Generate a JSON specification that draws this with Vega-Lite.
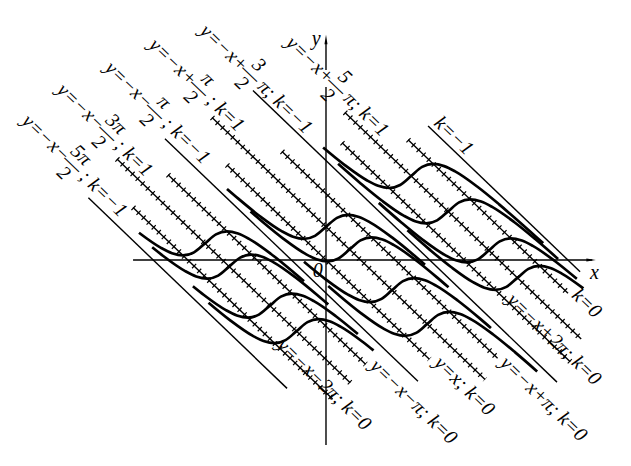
{
"$schema": "https://vega.github.io/schema/vega-lite/v6.json",
"width": 631, "height": 466, "autosize": {"type": "none"}, "padding": 0,
"background": "white",
"config": {"view": {"stroke": null}},
"datasets": {
"axes": [
{"x1": -8.77, "y1": 0, "x2": 12.1, "y2": 0},
{"x1": 0, "y1": -8.77, "x2": 0, "y2": 8.2},
{"x1": 0, "y1": 9.0, "x2": 0, "y2": 10.3}
],
"arrows": [
{"x": 12.05, "y": 0, "s": "M -1 -0.32 L 1 0 L -1 0.32 Z"},
{"x": 0, "y": 10.45, "s": "M -0.32 1 L 0 -1 L 0.32 1 Z"}
],
"lines": [
{"kind": "sol", "x1": -10.8, "y1": 2.946, "x2": -1.77, "y2": -6.084},
{"kind": "sol", "x1": -7.32, "y1": 5.749, "x2": 4.18, "y2": -5.751},
{"kind": "sol", "x1": -3.32, "y1": 8.032, "x2": 10.5, "y2": -5.788},
{"kind": "sol", "x1": 4.64, "y1": 6.356, "x2": 11.55, "y2": -0.554},
{"kind": "iso1", "x1": -9.5, "y1": 4.788, "x2": 1.1, "y2": -5.812},
{"kind": "iso1", "x1": -5.18, "y1": 6.751, "x2": 7.23, "y2": -5.659},
{"kind": "iso1", "x1": 0.86, "y1": 6.994, "x2": 11.6, "y2": -3.746},
{"kind": "iso0", "x1": -8.77, "y1": 2.487, "x2": 0.3, "y2": -6.583},
{"kind": "iso0", "x1": -7.18, "y1": 4.038, "x2": 1.8, "y2": -4.942},
{"kind": "iso0", "x1": -4.5, "y1": 4.5, "x2": 4.7, "y2": -4.7},
{"kind": "iso0", "x1": -2.0, "y1": 5.142, "x2": 7.8, "y2": -4.658},
{"kind": "iso0", "x1": 0.73, "y1": 5.553, "x2": 11.1, "y2": -4.817},
{"kind": "iso0", "x1": 3.73, "y1": 5.695, "x2": 11.0, "y2": -1.575}
],
"curves": [
{"id": "A", "x": -0.13, "y": 5.332}, {"id": "A", "x": 0.87, "y": 4.486}, {"id": "A", "x": 1.87, "y": 3.770}, {"id": "A", "x": 2.37, "y": 3.518}, {"id": "A", "x": 2.87, "y": 3.413}, {"id": "A", "x": 3.37, "y": 3.557}, {"id": "A", "x": 3.87, "y": 3.984}, {"id": "A", "x": 4.37, "y": 4.411}, {"id": "A", "x": 4.87, "y": 4.555}, {"id": "A", "x": 5.37, "y": 4.450}, {"id": "A", "x": 5.87, "y": 4.198}, {"id": "A", "x": 6.87, "y": 3.482}, {"id": "A", "x": 7.87, "y": 2.636}, {"id": "A", "x": 8.87, "y": 1.731}, {"id": "A", "x": 9.87, "y": 0.795},
{"id": "A2", "x": 0.55, "y": 4.557}, {"id": "A2", "x": 1.55, "y": 3.652}, {"id": "A2", "x": 2.55, "y": 2.806}, {"id": "A2", "x": 3.55, "y": 2.090}, {"id": "A2", "x": 4.05, "y": 1.838}, {"id": "A2", "x": 4.55, "y": 1.733}, {"id": "A2", "x": 5.05, "y": 1.877}, {"id": "A2", "x": 5.55, "y": 2.304}, {"id": "A2", "x": 6.05, "y": 2.731}, {"id": "A2", "x": 6.55, "y": 2.875}, {"id": "A2", "x": 7.05, "y": 2.770}, {"id": "A2", "x": 7.55, "y": 2.518}, {"id": "A2", "x": 8.55, "y": 1.802}, {"id": "A2", "x": 9.55, "y": 0.956}, {"id": "A2", "x": 10.55, "y": 0.051},
{"id": "A3", "x": 2.4, "y": 2.707}, {"id": "A3", "x": 3.4, "y": 1.802}, {"id": "A3", "x": 4.4, "y": 0.956}, {"id": "A3", "x": 5.4, "y": 0.240}, {"id": "A3", "x": 5.9, "y": -0.012}, {"id": "A3", "x": 6.4, "y": -0.117}, {"id": "A3", "x": 6.9, "y": 0.027}, {"id": "A3", "x": 7.4, "y": 0.454}, {"id": "A3", "x": 7.9, "y": 0.881}, {"id": "A3", "x": 8.4, "y": 1.025}, {"id": "A3", "x": 8.9, "y": 0.920}, {"id": "A3", "x": 9.4, "y": 0.668}, {"id": "A3", "x": 10.4, "y": -0.048}, {"id": "A3", "x": 11.4, "y": -0.894},
{"id": "A4", "x": 3.7, "y": 1.407}, {"id": "A4", "x": 4.7, "y": 0.502}, {"id": "A4", "x": 5.7, "y": -0.344}, {"id": "A4", "x": 6.7, "y": -1.060}, {"id": "A4", "x": 7.2, "y": -1.312}, {"id": "A4", "x": 7.7, "y": -1.417}, {"id": "A4", "x": 8.2, "y": -1.273}, {"id": "A4", "x": 8.7, "y": -0.846}, {"id": "A4", "x": 9.2, "y": -0.419}, {"id": "A4", "x": 9.7, "y": -0.275}, {"id": "A4", "x": 10.2, "y": -0.380}, {"id": "A4", "x": 10.7, "y": -0.632}, {"id": "A4", "x": 11.7, "y": -1.348},
{"id": "B1", "x": -4.5, "y": 3.367}, {"id": "B1", "x": -4, "y": 2.919}, {"id": "B1", "x": -3, "y": 2.073}, {"id": "B1", "x": -2, "y": 1.357}, {"id": "B1", "x": -1.5, "y": 1.105}, {"id": "B1", "x": -1, "y": 1.000}, {"id": "B1", "x": -0.5, "y": 1.144}, {"id": "B1", "x": 0, "y": 1.571}, {"id": "B1", "x": 0.5, "y": 1.998}, {"id": "B1", "x": 1, "y": 2.142}, {"id": "B1", "x": 1.5, "y": 2.037}, {"id": "B1", "x": 2, "y": 1.785}, {"id": "B1", "x": 3, "y": 1.069}, {"id": "B1", "x": 4, "y": 0.223}, {"id": "B1", "x": 4.5, "y": -0.225},
{"id": "B2", "x": -3.43, "y": 2.297}, {"id": "B2", "x": -2.93, "y": 1.849}, {"id": "B2", "x": -1.93, "y": 1.003}, {"id": "B2", "x": -0.93, "y": 0.287}, {"id": "B2", "x": -0.43, "y": 0.035}, {"id": "B2", "x": 0.07, "y": -0.070}, {"id": "B2", "x": 0.57, "y": 0.074}, {"id": "B2", "x": 1.07, "y": 0.501}, {"id": "B2", "x": 1.57, "y": 0.928}, {"id": "B2", "x": 2.07, "y": 1.072}, {"id": "B2", "x": 2.57, "y": 0.967}, {"id": "B2", "x": 3.07, "y": 0.715}, {"id": "B2", "x": 4.07, "y": -0.001}, {"id": "B2", "x": 5.07, "y": -0.847}, {"id": "B2", "x": 5.57, "y": -1.295},
{"id": "B3", "x": -1, "y": -0.081}, {"id": "B3", "x": 0, "y": -0.927}, {"id": "B3", "x": 1, "y": -1.643}, {"id": "B3", "x": 1.5, "y": -1.895}, {"id": "B3", "x": 2, "y": -2.000}, {"id": "B3", "x": 2.5, "y": -1.856}, {"id": "B3", "x": 3, "y": -1.429}, {"id": "B3", "x": 3.5, "y": -1.002}, {"id": "B3", "x": 4, "y": -0.858}, {"id": "B3", "x": 4.5, "y": -0.963}, {"id": "B3", "x": 5, "y": -1.215}, {"id": "B3", "x": 6, "y": -1.931}, {"id": "B3", "x": 7, "y": -2.777}, {"id": "B3", "x": 7.5, "y": -3.225},
{"id": "B4", "x": 0.1, "y": -1.233}, {"id": "B4", "x": 0.6, "y": -1.681}, {"id": "B4", "x": 1.6, "y": -2.527}, {"id": "B4", "x": 2.6, "y": -3.243}, {"id": "B4", "x": 3.1, "y": -3.495}, {"id": "B4", "x": 3.6, "y": -3.600}, {"id": "B4", "x": 4.1, "y": -3.456}, {"id": "B4", "x": 4.6, "y": -3.029}, {"id": "B4", "x": 5.1, "y": -2.602}, {"id": "B4", "x": 5.6, "y": -2.458}, {"id": "B4", "x": 6.1, "y": -2.563}, {"id": "B4", "x": 6.6, "y": -2.815}, {"id": "B4", "x": 7.6, "y": -3.531}, {"id": "B4", "x": 8.6, "y": -4.377}, {"id": "B4", "x": 9.6, "y": -5.282},
{"id": "D1", "x": -8.5, "y": 1.290}, {"id": "D1", "x": -7.5, "y": 0.574}, {"id": "D1", "x": -7.0, "y": 0.322}, {"id": "D1", "x": -6.5, "y": 0.217}, {"id": "D1", "x": -6.0, "y": 0.361}, {"id": "D1", "x": -5.5, "y": 0.788}, {"id": "D1", "x": -5.0, "y": 1.215}, {"id": "D1", "x": -4.5, "y": 1.359}, {"id": "D1", "x": -4.0, "y": 1.254}, {"id": "D1", "x": -3.5, "y": 1.002}, {"id": "D1", "x": -2.5, "y": 0.286}, {"id": "D1", "x": -1.5, "y": -0.560}, {"id": "D1", "x": -1.0, "y": -1.008},
{"id": "D2", "x": -7.9, "y": 0.603}, {"id": "D2", "x": -7.4, "y": 0.190}, {"id": "D2", "x": -6.4, "y": -0.526}, {"id": "D2", "x": -5.9, "y": -0.778}, {"id": "D2", "x": -5.4, "y": -0.883}, {"id": "D2", "x": -4.9, "y": -0.739}, {"id": "D2", "x": -4.4, "y": -0.312}, {"id": "D2", "x": -3.9, "y": 0.115}, {"id": "D2", "x": -3.4, "y": 0.259}, {"id": "D2", "x": -2.9, "y": 0.154}, {"id": "D2", "x": -2.4, "y": -0.098}, {"id": "D2", "x": -1.4, "y": -0.814}, {"id": "D2", "x": -0.4, "y": -1.660}, {"id": "D2", "x": 0.1, "y": -2.108},
{"id": "D3", "x": -6.05, "y": -1.247}, {"id": "D3", "x": -5.55, "y": -1.660}, {"id": "D3", "x": -4.55, "y": -2.376}, {"id": "D3", "x": -4.05, "y": -2.628}, {"id": "D3", "x": -3.55, "y": -2.733}, {"id": "D3", "x": -3.05, "y": -2.589}, {"id": "D3", "x": -2.55, "y": -2.162}, {"id": "D3", "x": -2.05, "y": -1.735}, {"id": "D3", "x": -1.55, "y": -1.591}, {"id": "D3", "x": -1.05, "y": -1.696}, {"id": "D3", "x": -0.55, "y": -1.948}, {"id": "D3", "x": 0.45, "y": -2.664}, {"id": "D3", "x": 1.45, "y": -3.510},
{"id": "D4", "x": -5.34, "y": -2.024}, {"id": "D4", "x": -4.34, "y": -2.870}, {"id": "D4", "x": -3.34, "y": -3.586}, {"id": "D4", "x": -2.84, "y": -3.838}, {"id": "D4", "x": -2.34, "y": -3.943}, {"id": "D4", "x": -1.84, "y": -3.799}, {"id": "D4", "x": -1.34, "y": -3.372}, {"id": "D4", "x": -0.84, "y": -2.945}, {"id": "D4", "x": -0.34, "y": -2.801}, {"id": "D4", "x": 0.16, "y": -2.906}, {"id": "D4", "x": 0.66, "y": -3.158}, {"id": "D4", "x": 1.66, "y": -3.874}, {"id": "D4", "x": 2.16, "y": -4.287}
],
"toplabels": [
{"x": -13.68, "y": 6.73, "pre": "y=−x−", "num": "5π", "den": "2", "suf": "; k=−1"},
{"x": -12.09, "y": 8.2, "pre": "y=−x−", "num": "3π", "den": "2", "suf": "; k=1"},
{"x": -9.91, "y": 9.24, "pre": "y=−x−", "num": "π", "den": "2", "suf": "; k=−1"},
{"x": -7.91, "y": 10.33, "pre": "y=−x+", "num": "π", "den": "2", "suf": "; k=1"},
{"x": -5.59, "y": 11.0, "pre": "y=−x+", "num": "3", "den": "2", "suf": "π; k=−1"},
{"x": -1.68, "y": 10.43, "pre": "y=−x+", "num": "5", "den": "2", "suf": "π; k=1"}
],
"labels": [
{"x": -2.09, "y": -3.89, "t": "y=−x−2π; k=0"},
{"x": 2.14, "y": -4.88, "t": "y=−x−π; k=0"},
{"x": 5.05, "y": -4.74, "t": "y=x; k=0"},
{"x": 8.05, "y": -4.74, "t": "y=−x+π; k=0"},
{"x": 8.36, "y": -1.75, "t": "y=−x+2π; k=0"},
{"x": 11.32, "y": -1.52, "t": "k=0"},
{"x": 5.05, "y": 6.64, "t": "k=−1"}
],
"axlabels": [
{"x": 12.2, "y": -0.6, "t": "x"},
{"x": -0.45, "y": 10.45, "t": "y"},
{"x": -0.38, "y": -0.5, "t": "0"}
]
},
"layer": [
{"data": {"name": "axes"}, "mark": {"type": "rule", "color": "black", "strokeWidth": 1.4},
 "encoding": {"x": {"field": "x1", "type": "quantitative", "scale": {"domain": [-14.818, 13.864], "nice": false, "zero": false}, "axis": null},
  "y": {"field": "y1", "type": "quantitative", "scale": {"domain": [-9.763, 12.322], "nice": false, "zero": false}, "axis": null},
  "x2": {"field": "x2"}, "y2": {"field": "y2"}}},
{"data": {"name": "arrows"}, "mark": {"type": "point", "filled": true, "color": "black", "opacity": 1, "size": 90},
 "encoding": {"x": {"field": "x", "type": "quantitative", "scale": {"domain": [-14.818, 13.864], "nice": false, "zero": false}, "axis": null},
  "y": {"field": "y", "type": "quantitative", "scale": {"domain": [-9.763, 12.322], "nice": false, "zero": false}, "axis": null},
  "shape": {"field": "s", "type": "nominal", "scale": null}}},
{"data": {"name": "lines"}, "mark": {"type": "rule", "color": "black", "strokeWidth": 1.4},
 "encoding": {"x": {"field": "x1", "type": "quantitative", "scale": {"domain": [-14.818, 13.864], "nice": false, "zero": false}, "axis": null},
  "y": {"field": "y1", "type": "quantitative", "scale": {"domain": [-9.763, 12.322], "nice": false, "zero": false}, "axis": null},
  "x2": {"field": "x2"}, "y2": {"field": "y2"}}},
{"data": {"name": "lines"}, "transform": [{"filter": "datum.kind != 'sol'"}],
 "mark": {"type": "rule", "color": "black", "strokeWidth": 6, "strokeDash": [1.2, 5.8]},
 "encoding": {"x": {"field": "x1", "type": "quantitative", "scale": {"domain": [-14.818, 13.864], "nice": false, "zero": false}, "axis": null},
  "y": {"field": "y1", "type": "quantitative", "scale": {"domain": [-9.763, 12.322], "nice": false, "zero": false}, "axis": null},
  "x2": {"field": "x2"}, "y2": {"field": "y2"}}},
{"data": {"name": "curves"}, "mark": {"type": "line", "color": "black", "strokeWidth": 2.7, "interpolate": "monotone"},
 "encoding": {"x": {"field": "x", "type": "quantitative", "scale": {"domain": [-14.818, 13.864], "nice": false, "zero": false}, "axis": null},
  "y": {"field": "y", "type": "quantitative", "scale": {"domain": [-9.763, 12.322], "nice": false, "zero": false}, "axis": null},
  "detail": {"field": "id", "type": "nominal"}}},
{"data": {"name": "toplabels"}, "mark": {"type": "text", "angle": 44, "align": "left", "baseline": "middle", "font": "Liberation Serif", "fontStyle": "italic", "fontSize": 20, "color": "black"},
 "encoding": {"x": {"field": "x", "type": "quantitative", "scale": {"domain": [-14.818, 13.864], "nice": false, "zero": false}, "axis": null},
  "y": {"field": "y", "type": "quantitative", "scale": {"domain": [-9.763, 12.322], "nice": false, "zero": false}, "axis": null},
  "text": {"field": "pre"}}},
{"data": {"name": "toplabels"}, "mark": {"type": "text", "angle": 44, "align": "center", "baseline": "middle", "dx": 66, "dy": -12, "font": "Liberation Serif", "fontStyle": "italic", "fontSize": 20, "color": "black"},
 "encoding": {"x": {"field": "x", "type": "quantitative", "scale": {"domain": [-14.818, 13.864], "nice": false, "zero": false}, "axis": null},
  "y": {"field": "y", "type": "quantitative", "scale": {"domain": [-9.763, 12.322], "nice": false, "zero": false}, "axis": null},
  "text": {"field": "num"}}},
{"data": {"name": "toplabels"}, "mark": {"type": "text", "angle": 44, "align": "center", "baseline": "middle", "dx": 66, "dy": 0, "font": "Liberation Serif", "fontSize": 20, "color": "black", "text": "—"},
 "encoding": {"x": {"field": "x", "type": "quantitative", "scale": {"domain": [-14.818, 13.864], "nice": false, "zero": false}, "axis": null},
  "y": {"field": "y", "type": "quantitative", "scale": {"domain": [-9.763, 12.322], "nice": false, "zero": false}, "axis": null}}},
{"data": {"name": "toplabels"}, "mark": {"type": "text", "angle": 44, "align": "center", "baseline": "middle", "dx": 66, "dy": 13, "font": "Liberation Serif", "fontStyle": "italic", "fontSize": 20, "color": "black"},
 "encoding": {"x": {"field": "x", "type": "quantitative", "scale": {"domain": [-14.818, 13.864], "nice": false, "zero": false}, "axis": null},
  "y": {"field": "y", "type": "quantitative", "scale": {"domain": [-9.763, 12.322], "nice": false, "zero": false}, "axis": null},
  "text": {"field": "den"}}},
{"data": {"name": "toplabels"}, "mark": {"type": "text", "angle": 44, "align": "left", "baseline": "middle", "dx": 80, "font": "Liberation Serif", "fontStyle": "italic", "fontSize": 20, "color": "black"},
 "encoding": {"x": {"field": "x", "type": "quantitative", "scale": {"domain": [-14.818, 13.864], "nice": false, "zero": false}, "axis": null},
  "y": {"field": "y", "type": "quantitative", "scale": {"domain": [-9.763, 12.322], "nice": false, "zero": false}, "axis": null},
  "text": {"field": "suf"}}},
{"data": {"name": "labels"}, "mark": {"type": "text", "angle": 44, "align": "left", "baseline": "middle", "font": "Liberation Serif", "fontStyle": "italic", "fontSize": 20, "color": "black"},
 "encoding": {"x": {"field": "x", "type": "quantitative", "scale": {"domain": [-14.818, 13.864], "nice": false, "zero": false}, "axis": null},
  "y": {"field": "y", "type": "quantitative", "scale": {"domain": [-9.763, 12.322], "nice": false, "zero": false}, "axis": null},
  "text": {"field": "t"}}},
{"data": {"name": "axlabels"}, "mark": {"type": "text", "align": "center", "baseline": "middle", "font": "Liberation Serif", "fontStyle": "italic", "fontSize": 20, "color": "black"},
 "encoding": {"x": {"field": "x", "type": "quantitative", "scale": {"domain": [-14.818, 13.864], "nice": false, "zero": false}, "axis": null},
  "y": {"field": "y", "type": "quantitative", "scale": {"domain": [-9.763, 12.322], "nice": false, "zero": false}, "axis": null},
  "text": {"field": "t"}}}
]
}
